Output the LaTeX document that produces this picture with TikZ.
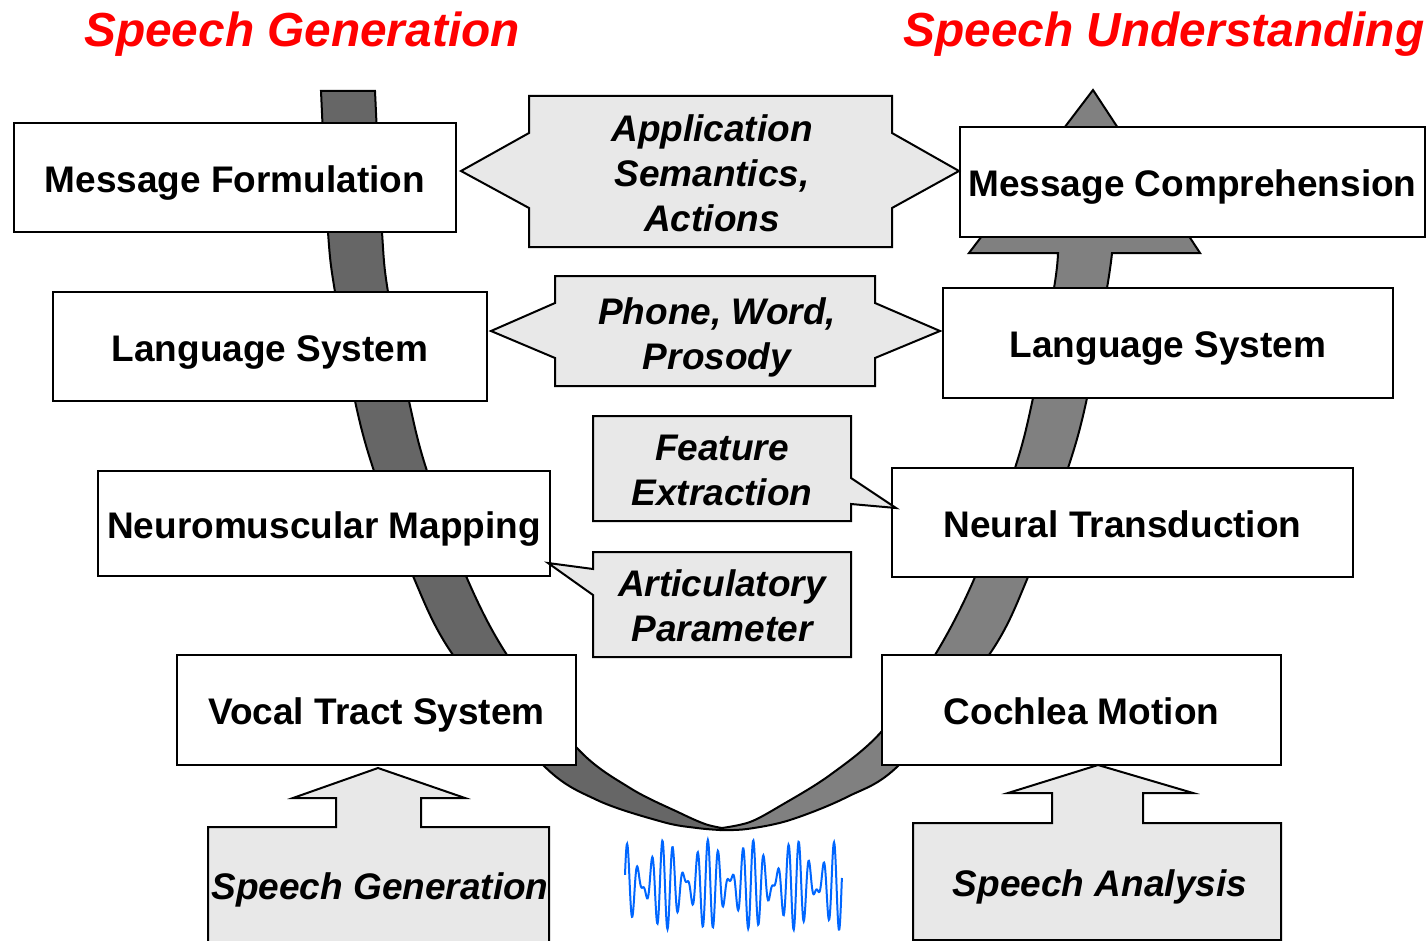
\documentclass[tikz,border=0pt]{standalone}
\usepackage{fontspec}
\setmainfont{Liberation Sans}
\usetikzlibrary{positioning}
\definecolor{cb}{RGB}{0,0,0}
\definecolor{cl}{RGB}{102,102,102}
\definecolor{cr}{RGB}{128,128,128}
\definecolor{cc}{RGB}{232,232,232}
\definecolor{cw}{RGB}{0,102,255}
\definecolor{ct}{RGB}{255,0,0}
\tikzstyle{stage}=[draw=cb, fill=white, line width=1pt, text height=14.6pt, text depth=0pt, font=\fontsize{18.5}{22}\selectfont\bfseries]
\tikzstyle{callout}=[draw=cb, fill=cc, line width=1pt, line join=miter]
\tikzstyle{ctext}=[font=\fontsize{18.5}{22.5}\selectfont\bfseries\itshape, align=center]
\tikzstyle{title}=[text=ct, font=\fontsize{23.9}{28}\selectfont\bfseries\itshape, anchor=base]
\tikzstyle{bandl}=[draw=cb, fill=cl, line width=1pt]
\tikzstyle{bandr}=[draw=cb, fill=cr, line width=1pt]
\tikzstyle{wave}=[cw, line width=1pt]
\begin{document}
\begin{tikzpicture}[x=0.5pt, y=-0.5pt]
  \useasboundingbox (0,0) rectangle (1428,941);

  % the two bands of the U
  \draw [bandl] plot[smooth, tension=0.55] coordinates {(321,91) (328,232) (335,292) (355,401) (374,471) (413,576) (453,655) (542,764) (597,800) (663,822) (697,828) (720,830)}
    -- plot[smooth, tension=0.55] coordinates {(722,828) (705,824) (680,813) (630,788) (577,748) (507,655) (466,576) (427,471) (409,401) (388,292) (382,232) (375,91)} -- cycle;
  \draw [bandr] plot[smooth, tension=0.55] coordinates {(722,828) (750,822) (780,806) (830,775) (882,731) (935,655) (975,577) (1015,468) (1033,398) (1054,288) (1058,253)}
    -- (969,253) -- (1093,90) -- (1200,253) -- (1112,253)
    -- plot[smooth, tension=0.55] coordinates {(1112,253) (1107,288) (1087,398) (1068,468) (1028,577) (989,655) (900,764) (847,797) (790,820) (747,829) (720,830)} -- cycle;

  \node [title] (tgen) at (302,47) {Speech Generation};
  \node [title] (tund) at (1164,47) {Speech Understanding};

  \node [stage, minimum width=221pt, minimum height=54.5pt] (mform) at (235,177.5) {Message Formulation};
  \node [stage, minimum width=217pt, minimum height=54.5pt] (langl) at (270,346.5) {Language System};
  \node [stage, minimum width=226pt, minimum height=52.5pt] (neuro) at (324,523.5) {Neuromuscular Mapping};
  \node [stage, minimum width=199.5pt, minimum height=55pt] (vocal) at (376.5,710) {Vocal Tract System};

  \node [stage, minimum width=232.5pt, minimum height=55pt] (mcomp) at (1192.5,182) {Message Comprehension};
  \node [stage, minimum width=225pt, minimum height=55pt] (langr) at (1168,343) {Language System};
  \node [stage, minimum width=230.5pt, minimum height=54.5pt] (neural) at (1122.5,522.5) {Neural Transduction};
  \node [stage, minimum width=199.5pt, minimum height=55pt] (cochlea) at (1081.5,710) {Cochlea Motion};

  % callouts between the two sides
  \draw [callout] (529,96) -- (892,96) -- (892,133) -- (959,171) -- (892,208) -- (892,247) -- (529,247) -- (529,208) -- (461,171) -- (529,133) -- cycle;
  \node [ctext] (appl) at (712,173) {Application\\Semantics,\\Actions};
  \draw [callout] (555,276) -- (875,276) -- (875,303) -- (940,331) -- (875,358) -- (875,386) -- (555,386) -- (555,358) -- (491,331) -- (555,303) -- cycle;
  \node [ctext] (phone) at (717,337) {Phone, Word,\\Prosody};
  \draw [callout] (593,416) -- (851,416) -- (851,478) -- (896,508) -- (851,504) -- (851,521) -- (593,521) -- cycle;
  \node [ctext] (feat) at (722,470) {Feature\\Extraction};
  \draw [callout] (593,552) -- (851,552) -- (851,657) -- (593,657) -- (593,595) -- (548,563) -- (593,569) -- cycle;
  \node [ctext] (artic) at (722,606) {Articulatory\\Parameter};

  % block arrows at the bottom
  \draw [callout] (208,941) -- (208,827) -- (336,827) -- (336,798) -- (293,798) -- (378,768) -- (465,798) -- (421,798) -- (421,827) -- (549,827) -- (549,941);
  \node [ctext] (sgen) at (380,890) {Speech Generation};
  \draw [callout] (913,940) -- (913,823) -- (1052,823) -- (1052,793) -- (1008,793) -- (1098,765) -- (1193,793) -- (1143,793) -- (1143,823) -- (1281,823) -- (1281,940) -- cycle;
  \node [ctext] (sana) at (1100,887) {Speech Analysis};

  % speech signal
  \draw [wave] plot[domain=0:1, samples=500, smooth] ({625+217*\x}, {885-45*(0.55*sin(6840*\x)+0.45*sin(8640*\x+30))});
\end{tikzpicture}
\end{document}
